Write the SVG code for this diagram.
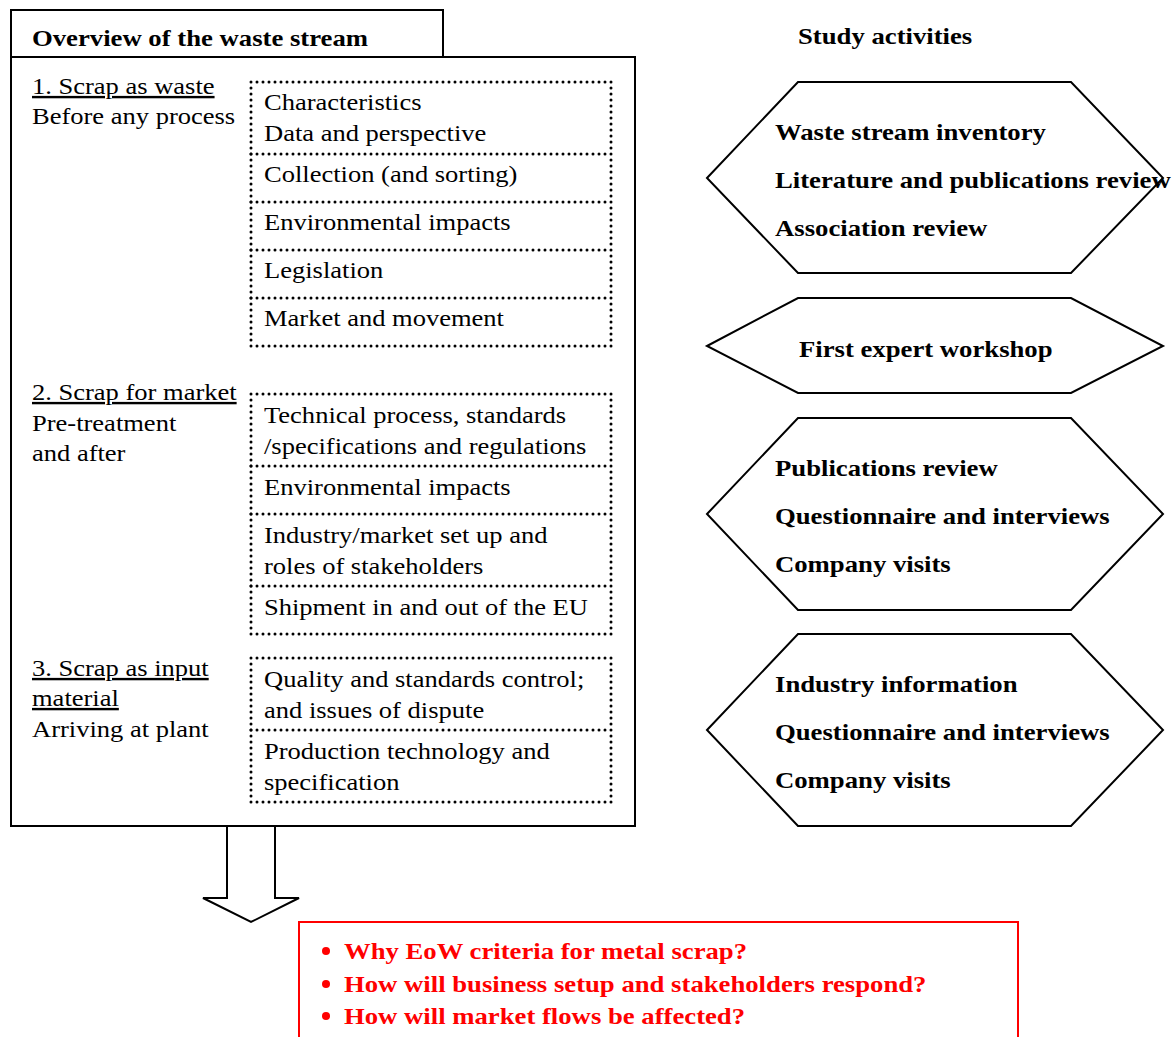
<svg xmlns="http://www.w3.org/2000/svg" width="1176" height="1037" viewBox="0 0 1176 1037">
<style>
  text { font-family: "Liberation Serif", "Times New Roman", serif; font-size: 24px; fill: #000;
         transform-box: fill-box; transform-origin: 0 50%; transform: scaleX(1.105); }
  .b { font-weight: bold; transform: scaleX(1.113); }
  .u { text-decoration: underline; }
  .red { fill: #ff0000; font-weight: bold; transform: scaleX(1.113); }
  .box { fill: #fff; stroke: #000; stroke-width: 2; }
  .dot { fill: none; stroke: #000; stroke-width: 3; stroke-dasharray: 0 6; stroke-linecap: round; }
  .hex { fill: #fff; stroke: #000; stroke-width: 2; stroke-linejoin: miter; }
</style>
<rect width="1176" height="1037" fill="#fff"/>

<g id="overview">
  <rect class="box" x="11" y="57" width="624" height="769"/>
  <rect class="box" x="11" y="10" width="432" height="47"/>
  <text class="b" x="32" y="46">Overview of the waste stream</text>
</g>

<g id="section1">
  <text class="u" x="32" y="94">1. Scrap as waste</text>
  <text x="32" y="124">Before any process</text>
  <rect class="dot" x="251" y="82" width="360" height="264"/>
  <path class="dot" d="M251 154H611M251 202H611M251 250H611M251 298H611"/>
  <text x="264" y="110">Characteristics</text>
  <text x="264" y="141">Data and perspective</text>
  <text x="264" y="182">Collection (and sorting)</text>
  <text x="264" y="230">Environmental impacts</text>
  <text x="264" y="278">Legislation</text>
  <text x="264" y="326">Market and movement</text>
</g>

<g id="section2">
  <text class="u" x="32" y="400">2. Scrap for market</text>
  <text x="32" y="431">Pre-treatment</text>
  <text x="32" y="461">and after</text>
  <rect class="dot" x="251" y="394" width="360" height="240"/>
  <path class="dot" d="M251 466H611M251 514H611M251 586H611"/>
  <text x="264" y="423">Technical process, standards</text>
  <text x="264" y="454">/specifications and regulations</text>
  <text x="264" y="495">Environmental impacts</text>
  <text x="264" y="543">Industry/market set up and</text>
  <text x="264" y="574">roles of stakeholders</text>
  <text x="264" y="615">Shipment in and out of the EU</text>
</g>

<g id="section3">
  <text class="u" x="32" y="676">3. Scrap as input</text>
  <text class="u" x="32" y="706">material</text>
  <text x="32" y="737">Arriving at plant</text>
  <rect class="dot" x="251" y="658" width="360" height="144"/>
  <path class="dot" d="M251 730H611"/>
  <text x="264" y="687">Quality and standards control;</text>
  <text x="264" y="718">and issues of dispute</text>
  <text x="264" y="759">Production technology and</text>
  <text x="264" y="790">specification</text>
</g>

<g id="study-title">
  <text class="b" x="798" y="44">Study activities</text>
</g>

<g id="hex1">
  <polygon class="hex" points="707,178 798,82 1071,82 1163,178 1071,273 798,273"/>
  <text class="b" x="775" y="140">Waste stream inventory</text>
  <text class="b" x="775" y="188">Literature and publications review</text>
  <text class="b" x="775" y="236">Association review</text>
</g>

<g id="hex2">
  <polygon class="hex" points="707,346 798,298 1071,298 1163,346 1071,393 798,393"/>
  <text class="b" x="799" y="357">First expert workshop</text>
</g>

<g id="hex3">
  <polygon class="hex" points="707,514 798,418 1071,418 1163,514 1071,610 798,610"/>
  <text class="b" x="775" y="476">Publications review</text>
  <text class="b" x="775" y="524">Questionnaire and interviews</text>
  <text class="b" x="775" y="572">Company visits</text>
</g>

<g id="hex4">
  <polygon class="hex" points="707,730 798,634 1071,634 1163,730 1071,826 798,826"/>
  <text class="b" x="775" y="692">Industry information</text>
  <text class="b" x="775" y="740">Questionnaire and interviews</text>
  <text class="b" x="775" y="788">Company visits</text>
</g>

<g id="connectors">
  <polygon class="hex" points="227,826 275,826 275,898 299,898 251,922 203,898 227,898"/>
</g>

<g id="questions">
  <rect x="299" y="922" width="719" height="130" fill="#fff" stroke="#ff0000" stroke-width="2"/>
  <circle cx="326" cy="951" r="4" fill="#ff0000"/>
  <circle cx="326" cy="984" r="4" fill="#ff0000"/>
  <circle cx="326" cy="1016" r="4" fill="#ff0000"/>
  <text class="red" x="344" y="959">Why EoW criteria for metal scrap?</text>
  <text class="red" x="344" y="992">How will business setup and stakeholders respond?</text>
  <text class="red" x="344" y="1024">How will market flows be affected?</text>
</g>
</svg>
